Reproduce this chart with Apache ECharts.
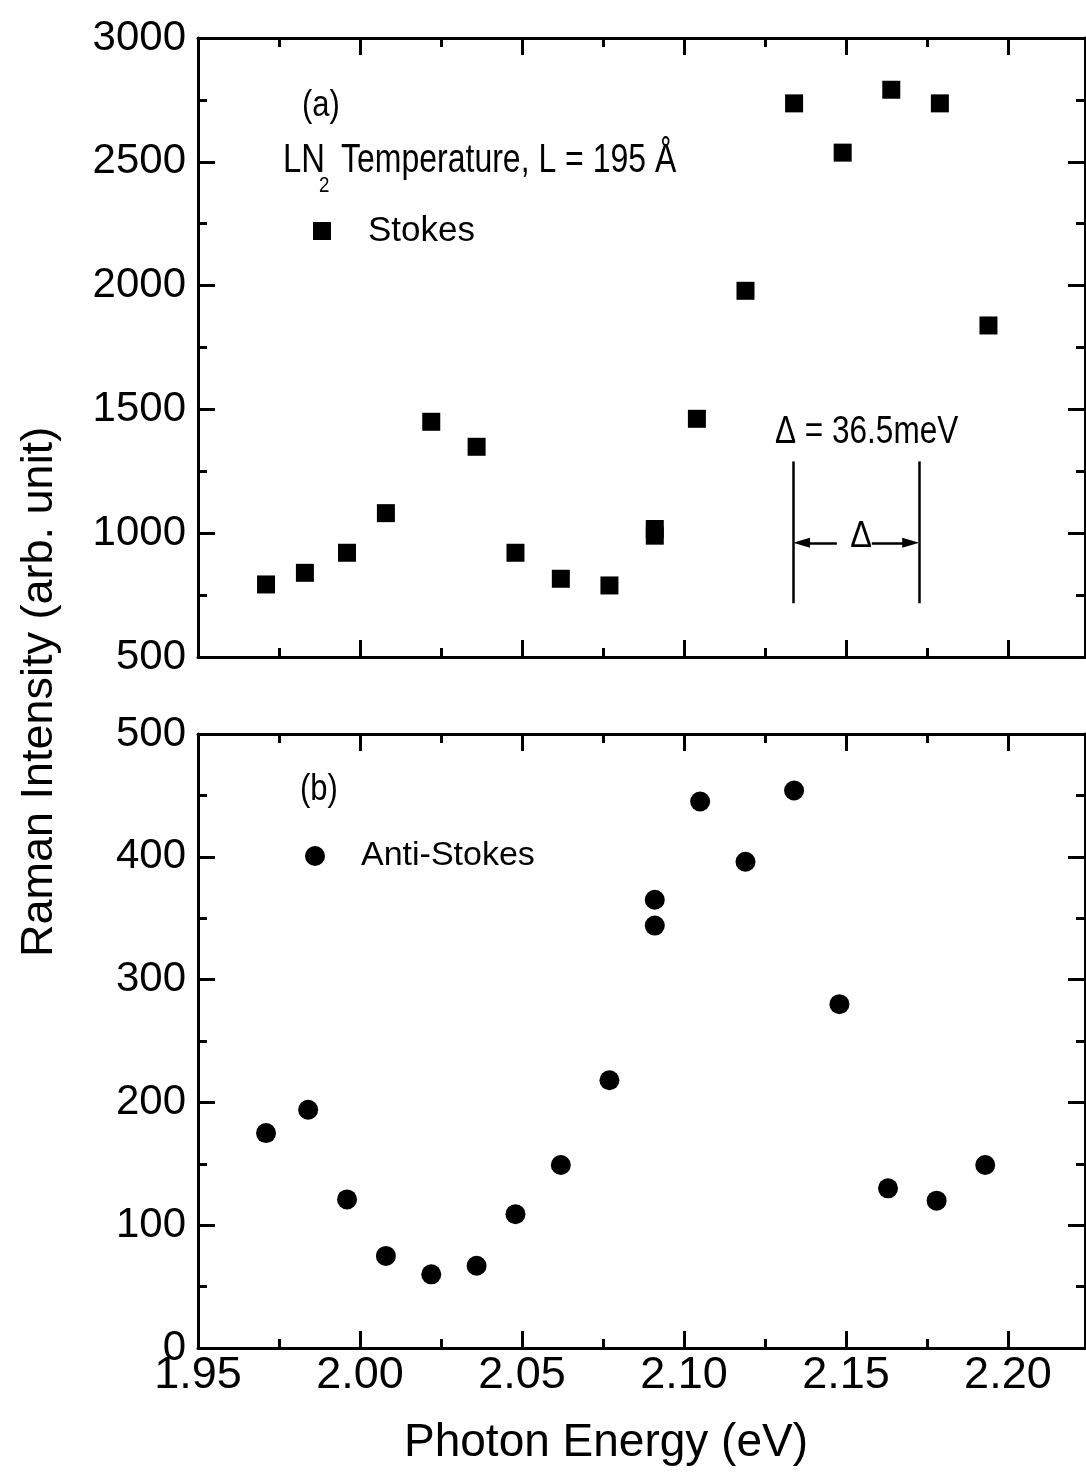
<!DOCTYPE html>
<html>
<head>
<meta charset="utf-8">
<script src="https://cdn.jsdelivr.net/npm/echarts@6/dist/echarts.min.js"></script>
<style>
  html, body { margin: 0; padding: 0; background: #fff; }
  #chart { width: 1086px; height: 1472px; }
</style>
</head>
<body>
<div id="chart"></div>
<script>
// (a) Stokes, LN2 temperature, L = 195 A
const stokesEnergy    = [1.971, 1.983, 1.996, 2.008, 2.022, 2.036, 2.048, 2.062, 2.077, 2.091, 2.091, 2.104, 2.119, 2.134, 2.149, 2.164, 2.179, 2.194];
const stokesIntensity = [793, 840, 921, 1081, 1450, 1349, 921, 816, 789, 1017, 990, 1462, 1979, 2736, 2537, 2791, 2736, 1839];

// (b) Anti-Stokes
const antiEnergy    = [1.971, 1.984, 1.996, 2.008, 2.022, 2.036, 2.048, 2.062, 2.077, 2.091, 2.091, 2.105, 2.119, 2.134, 2.148, 2.163, 2.178, 2.193];
const antiIntensity = [175, 194, 121, 75, 60, 67, 109, 149, 218, 365, 344, 445, 396, 454, 280, 130, 120, 149];

// axis ranges
const energyRange = [1.95, 2.2238];
const stokesRange = [500, 3000];
const antiRange   = [0, 500];

// delta marker (energies of the two bars, bar span, arrow height, arrow tails)
const deltaBars  = [2.1338, 2.1725];
const deltaSpan  = [717, 1290];
const deltaArrowY = 961;
const deltaTails = [2.1472, 2.1580];

const FONT = '"Liberation Sans", Arial, sans-serif';
const AX = { color: '#000', width: 3 };

function energyAxes(grid, withLabels) {
  const base = { type: 'value', gridIndex: grid, min: energyRange[0], max: energyRange[1], splitLine: { show: false } };
  const major = (pos, labels) => Object.assign({}, base, {
    position: pos, interval: 0.05,
    axisLine: { show: true, lineStyle: AX },
    axisTick: { show: true, inside: true, length: 17, lineStyle: AX },
    axisLabel: labels ? {
      show: true, color: '#000', fontFamily: FONT, fontSize: 45, margin: 5,
      formatter: v => Math.abs(v * 20 - Math.round(v * 20)) < 1e-6 ? v.toFixed(2) : ''
    } : { show: false }
  });
  const minor = pos => Object.assign({}, base, {
    position: pos, interval: 0.025,
    axisLine: { show: false },
    axisTick: { show: true, inside: true, length: 9, lineStyle: AX },
    axisLabel: { show: false }
  });
  return [major('bottom', withLabels), minor('bottom'), major('top', false), minor('top')];
}

function intensityAxes(grid, range, step) {
  const base = {
    type: 'value', gridIndex: grid, min: range[0], max: range[1], interval: step,
    splitLine: { show: false },
    axisLine: { show: true, lineStyle: AX },
    axisTick: { show: true, inside: true, length: 17, lineStyle: AX },
    minorTick: { show: true, splitNumber: 2, length: 9, lineStyle: AX }
  };
  return [
    Object.assign({}, base, {
      position: 'left',
      axisLabel: { show: true, color: '#000', fontFamily: FONT, fontSize: 42, margin: 12, formatter: v => String(v) }
    }),
    Object.assign({}, base, { position: 'right', axisLabel: { show: false } })
  ];
}

function zip(xs, ys) { return xs.map((x, i) => [x, ys[i]]); }

// text placed in pixels; sx squeezes the glyphs horizontally (the original lettering is condensed)
function txt(x, y, text, size, align, sx, extra) {
  return Object.assign({
    type: 'text', x: x, y: y, scaleX: sx, silent: true,
    style: { text: text, fill: '#000', font: size + 'px ' + FONT, textAlign: align, textVerticalAlign: 'middle' }
  }, extra || {});
}

const arrowHead = { symbol: 'triangle', symbolSize: [10, 17] };

const option = {
  animation: false,
  backgroundColor: '#fff',
  grid: [
    { left: 198, top: 38, width: 887, height: 619, containLabel: false, outerBoundsMode: 'none' },
    { left: 198, top: 734, width: 887, height: 614, containLabel: false, outerBoundsMode: 'none' }
  ],
  xAxis: energyAxes(0, false).concat(energyAxes(1, true)),
  yAxis: intensityAxes(0, stokesRange, 500).concat(intensityAxes(1, antiRange, 100)),
  legend: [
    {
      data: ['Stokes'], left: 313, top: 211, padding: 0, icon: 'rect',
      itemWidth: 18, itemHeight: 18, selectedMode: false,
      textStyle: { color: '#000', fontFamily: FONT, fontSize: 35, lineHeight: 40, padding: [0, 0, 0, 32] }
    },
    {
      data: ['Anti-Stokes'], left: 305, top: 836, padding: 0, icon: 'circle',
      itemWidth: 20, itemHeight: 20, selectedMode: false,
      textStyle: { color: '#000', fontFamily: FONT, fontSize: 34, lineHeight: 40, padding: [0, 0, 0, 31] }
    }
  ],
  series: [
    {
      name: 'Stokes', type: 'scatter', xAxisIndex: 0, yAxisIndex: 0,
      symbol: 'rect', symbolSize: 18, itemStyle: { color: '#000', opacity: 1 },
      data: zip(stokesEnergy, stokesIntensity),
      markLine: {
        silent: true, animation: false, symbol: 'none', precision: 4,
        label: { show: false },
        lineStyle: { color: '#000', width: 2.5, type: 'solid' },
        emphasis: { disabled: true },
        data: [
          [{ coord: [deltaBars[0], deltaSpan[0]] }, { coord: [deltaBars[0], deltaSpan[1]] }],
          [{ coord: [deltaBars[1], deltaSpan[0]] }, { coord: [deltaBars[1], deltaSpan[1]] }],
          [{ coord: [deltaTails[0], deltaArrowY] }, Object.assign({ coord: [deltaBars[0] + 0.0025, deltaArrowY] }, arrowHead)],
          [{ coord: [deltaTails[1], deltaArrowY] }, Object.assign({ coord: [deltaBars[1] - 0.0025, deltaArrowY] }, arrowHead)]
        ]
      }
    },
    {
      name: 'Anti-Stokes', type: 'scatter', xAxisIndex: 4, yAxisIndex: 2,
      symbol: 'circle', symbolSize: 20, itemStyle: { color: '#000', opacity: 1 },
      data: zip(antiEnergy, antiIntensity)
    }
  ],
  graphic: [
    txt(302, 106, '(a)', 36, 'left', 0.86),
    txt(283, 161, 'LN', 40, 'left', 0.82),
    txt(319, 186, '2', 22, 'left', 0.85),
    txt(341, 161, 'Temperature, L = 195 Å', 40, 'left', 0.8),
    txt(775, 433, 'Δ = 36.5meV', 38, 'left', 0.83),
    txt(861, 537, 'Δ', 36, 'center', 0.9),
    txt(300, 790, '(b)', 36, 'left', 0.86),
    txt(606, 1443, 'Photon Energy (eV)', 46, 'center', 1),
    txt(40, 692, 'Raman Intensity (arb. unit)', 45, 'center', 1, { rotation: Math.PI / 2 })
  ]
};

const chart = echarts.init(document.getElementById('chart'), null, { renderer: 'canvas' });
chart.setOption(option);
</script>
</body>
</html>
